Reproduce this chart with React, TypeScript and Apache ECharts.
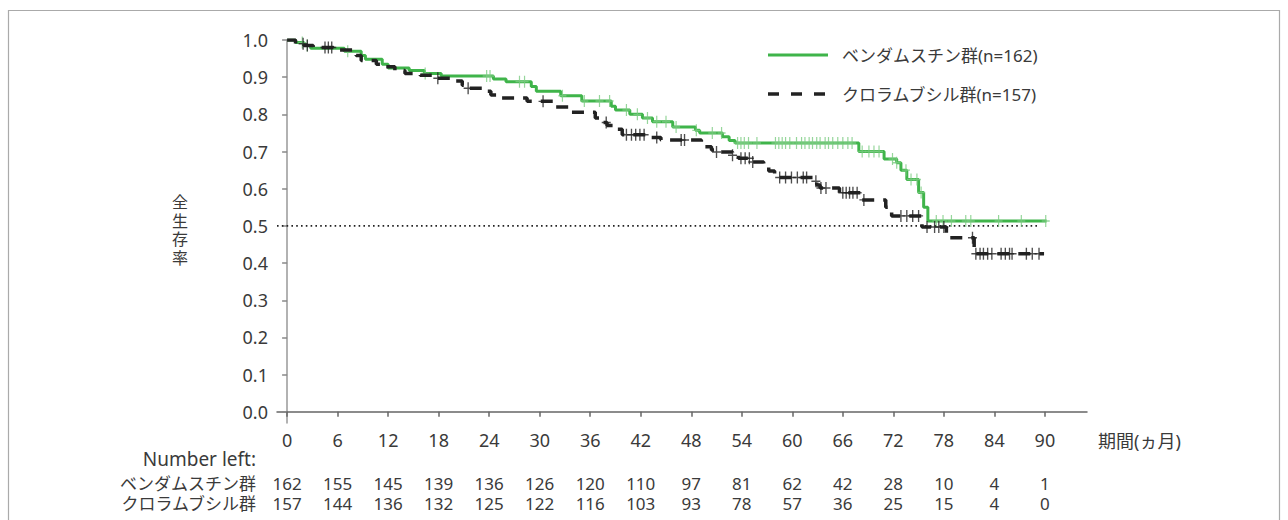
import React, { useEffect, useRef } from "react";
import * as echarts from "echarts";

// x-axis tick values (months)
const months = [0, 6, 12, 18, 24, 30, 36, 42, 48, 54, 60, 66, 72, 78, 84, 90];
// y-axis tick values
const yTicks = [0, 0.1, 0.2, 0.3, 0.4, 0.5, 0.6, 0.7, 0.8, 0.9, 1.0];

// Number at risk
const bendaAtRisk = [162, 155, 145, 139, 136, 126, 120, 110, 97, 81, 62, 42, 28, 10, 4, 1];
const chloAtRisk = [157, 144, 136, 132, 125, 122, 116, 103, 93, 78, 57, 36, 25, 15, 4, 0];

const bendaName = "ベンダムスチン群";
const chloName = "クロラムブシル群";
const yAxisChars = ["全", "生", "存", "率"];

// Kaplan–Meier steps: [time (months), survival from that time]
const bendaSteps: [number, number][] = [
  [0, 1.0], [1.0, 0.993], [2.0, 0.985], [2.8, 0.978], [6.8, 0.97], [8.8, 0.958],
  [9.3, 0.948], [11.3, 0.935], [12.0, 0.925], [14.5, 0.918], [16.3, 0.91],
  [18.3, 0.903], [24.5, 0.895], [26.0, 0.888], [29.0, 0.875], [29.6, 0.862],
  [32.5, 0.85], [35.0, 0.836], [38.5, 0.822], [39.0, 0.812], [40.7, 0.8],
  [42.2, 0.79], [43.4, 0.78], [45.8, 0.766], [48.5, 0.757], [49.0, 0.75],
  [51.7, 0.74], [52.5, 0.73], [53.2, 0.723], [67.9, 0.7], [70.9, 0.68],
  [72.4, 0.67], [72.9, 0.65], [73.6, 0.625], [75.0, 0.59], [75.6, 0.55],
  [76.1, 0.513], [90.2, 0.513],
];
const chloSteps: [number, number][] = [
  [0, 1.0], [1.0, 0.99], [2.0, 0.985], [3.1, 0.98], [5.5, 0.973], [8.2, 0.958],
  [8.8, 0.945], [10.6, 0.935], [11.4, 0.928], [12.8, 0.918], [14.0, 0.91],
  [15.8, 0.905], [17.8, 0.897], [19.6, 0.89], [20.8, 0.878], [21.5, 0.87],
  [23.5, 0.862], [24.2, 0.852], [25.5, 0.844], [28.5, 0.835], [31.8, 0.82],
  [33.8, 0.806], [36.6, 0.79], [37.2, 0.778], [38.0, 0.77], [38.8, 0.76],
  [39.8, 0.745], [43.2, 0.738], [44.4, 0.731], [49.2, 0.713], [50.4, 0.704],
  [51.0, 0.699], [52.9, 0.69], [53.6, 0.682], [55.2, 0.672], [56.6, 0.66],
  [57.2, 0.648], [57.9, 0.63], [62.5, 0.62], [62.9, 0.61], [63.3, 0.602],
  [65.6, 0.589], [68.2, 0.57], [71.1, 0.55], [71.8, 0.527], [75.4, 0.497],
  [78.3, 0.468], [81.6, 0.425], [89.9, 0.425],
];

// Censoring times
const bendaCensor = [
  1.8, 2.4, 7.2, 16.4, 23.7, 24.1, 27.6, 28.2, 32.7, 35.3, 37.1, 38.3, 40.3, 41.6,
  42.8, 43.9, 45.0, 46.2, 48.6, 50.5, 51.6, 53.5, 53.9, 54.3, 54.8, 55.8, 58.0,
  58.4, 58.8, 59.2, 59.7, 60.5, 61.1, 61.5, 62.0, 62.4, 62.9, 63.3, 63.9, 64.3,
  64.8, 65.4, 66.0, 66.6, 67.1, 68.3, 69.1, 69.7, 70.3, 71.9, 72.4, 73.5, 74.1,
  74.8, 75.3, 77.1, 77.9, 78.9, 80.6, 81.2, 84.5, 87.2, 90.1,
];
const chloCensor = [
  1.9, 2.4, 4.5, 4.9, 5.3, 17.9, 21.5, 30.4, 37.9, 40.3, 40.9, 41.4, 41.9, 42.4,
  43.9, 46.8, 47.2, 51.0, 52.9, 53.9, 54.4, 54.9, 55.3, 58.5, 59.2, 59.9, 60.6,
  61.3, 61.7, 62.8, 63.4, 64.0, 66.0, 66.4, 66.8, 67.2, 67.7, 68.5, 72.9, 73.6,
  74.3, 75.0, 76.0, 76.9, 77.4, 78.0, 81.4, 81.8, 82.3, 82.7, 83.2, 83.7, 84.8,
  85.3, 85.8, 86.1, 87.8, 88.5, 89.3,
];

const medianLine: [number, number][] = [[-1.2, 0.5], [89.3, 0.5]];

function survAt(steps: [number, number][], t: number): number {
  let v = steps[0][1];
  for (const [x, y] of steps) {
    if (x <= t) v = y;
    else break;
  }
  return v;
}

const GREEN = "#3fb44a";
const GREEN_LIGHT = "#7ccc82";
const BLACK = "#222222";
const TEXT = "#3a3a3a";
const FONT = "'Noto Sans', 'Noto Sans CJK JP', sans-serif";
const PLUS = "path://M3.4,0H4.6V4.4H8V5.6H4.6V10H3.4V5.6H0V4.4H3.4Z";

export default function App() {
  const ref = useRef<HTMLDivElement>(null);

  useEffect(() => {
    if (!ref.current) return;
    const chart = echarts.init(ref.current, null, { renderer: "svg" });
    const xMin = -1.2;
    const xMax = 95;
    const labelBase = { color: TEXT, fontSize: 18, fontFamily: FONT, lineHeight: 18 };
    const rowLabel = { color: TEXT, fontSize: 17, fontFamily: FONT, lineHeight: 17 };
    const baseX = {
      type: "value",
      min: xMin,
      max: xMax,
      gridIndex: 0,
      position: "bottom",
      splitLine: { show: false },
    };
    const txt = (text: string, x: number, y: number, align: string, extra: any = {}) => ({
      type: "text",
      x,
      y,
      silent: true,
      style: {
        text,
        fill: TEXT,
        fontSize: 18,
        fontFamily: FONT,
        align,
        verticalAlign: "middle",
        ...extra,
      },
    });

    chart.setOption({
      animation: false,
      grid: { left: 277, right: 201, top: 40, bottom: 97, containLabel: false },
      xAxis: [
        {
          ...baseX,
          axisLine: { show: true, lineStyle: { color: "#666", width: 1.5 } },
          axisTick: {
            show: true,
            length: 5,
            customValues: months,
            lineStyle: { color: "#666", width: 1.5 },
          },
          axisLabel: { ...labelBase, customValues: months, margin: 8 },
        },
        {
          ...baseX,
          offset: 43,
          axisLine: { show: false },
          axisTick: { show: false },
          axisLabel: {
            ...rowLabel,
            customValues: months,
            margin: 9,
            formatter: (v: number) => String(bendaAtRisk[Math.round(v / 6)]),
          },
        },
        {
          ...baseX,
          offset: 63,
          axisLine: { show: false },
          axisTick: { show: false },
          axisLabel: {
            ...rowLabel,
            customValues: months,
            margin: 9,
            formatter: (v: number) => String(chloAtRisk[Math.round(v / 6)]),
          },
        },
      ],
      yAxis: {
        type: "value",
        min: -0.03,
        max: 1.0,
        splitLine: { show: false },
        axisLine: { show: true, lineStyle: { color: "#999", width: 1.5 } },
        axisTick: {
          show: true,
          length: 5,
          customValues: yTicks,
          lineStyle: { color: "#888", width: 1.5 },
        },
        axisLabel: {
          ...labelBase,
          customValues: yTicks,
          margin: 9,
          formatter: (v: number) => v.toFixed(1),
        },
      },
      series: [
        {
          type: "line",
          data: medianLine,
          symbol: "none",
          silent: true,
          lineStyle: { color: "#222", width: 1.6, type: [1.6, 3.2] },
          z: 1,
        },
        {
          type: "line",
          name: bendaName,
          data: bendaSteps,
          step: "end",
          symbol: "none",
          lineStyle: { color: GREEN, width: 3 },
          z: 2,
        },
        {
          type: "scatter",
          data: bendaCensor.map((t) => [t, survAt(bendaSteps, t)]),
          symbol: PLUS,
          symbolSize: [8, 12],
          symbolKeepAspect: false,
          itemStyle: { color: GREEN_LIGHT },
          z: 3,
        },
        {
          type: "line",
          name: chloName,
          data: chloSteps,
          step: "end",
          symbol: "none",
          lineStyle: { color: BLACK, width: 3.5, type: [12, 9] },
          z: 4,
        },
        {
          type: "scatter",
          data: chloCensor.map((t) => [t, survAt(chloSteps, t)]),
          symbol: PLUS,
          symbolSize: [9, 12],
          symbolKeepAspect: false,
          itemStyle: { color: BLACK },
          z: 5,
        },
      ],
      graphic: [
        {
          type: "rect",
          silent: true,
          shape: { x: 8.5, y: 10.5, width: 1271, height: 540 },
          style: { fill: "none", stroke: "#aaa", lineWidth: 1.2 },
        },
        {
          type: "line",
          silent: true,
          shape: { x1: 768, y1: 55, x2: 828, y2: 55 },
          style: { stroke: GREEN, lineWidth: 3 },
        },
        {
          type: "line",
          silent: true,
          shape: { x1: 768, y1: 94, x2: 828, y2: 94 },
          style: { stroke: BLACK, lineWidth: 3.5, lineDash: [11, 12] },
        },
        txt(bendaName + "(n=162)", 842, 55, "left", { fontSize: 17 }),
        txt(chloName + "(n=157)", 842, 94, "left", { fontSize: 17 }),
        ...yAxisChars.map((c, i) => txt(c, 180, 202 + i * 18.5, "center", { fontSize: 16, lineHeight: 16 })),
        txt("期間(ヵ月)", 1098, 441, "left", { fontSize: 18 }),
        txt("Number left:", 256, 459, "right", { fontSize: 19, lineHeight: 18 }),
        txt(bendaName, 256, 483, "right", { fontSize: 17, lineHeight: 17 }),
        txt(chloName, 256, 503, "right", { fontSize: 17, lineHeight: 17 }),
      ],
    });
    return () => chart.dispose();
  }, []);

  return (
    <div
      ref={ref}
      style={{ position: "fixed", left: 0, top: 0, width: 1288, height: 520, background: "#fff" }}
    />
  );
}
